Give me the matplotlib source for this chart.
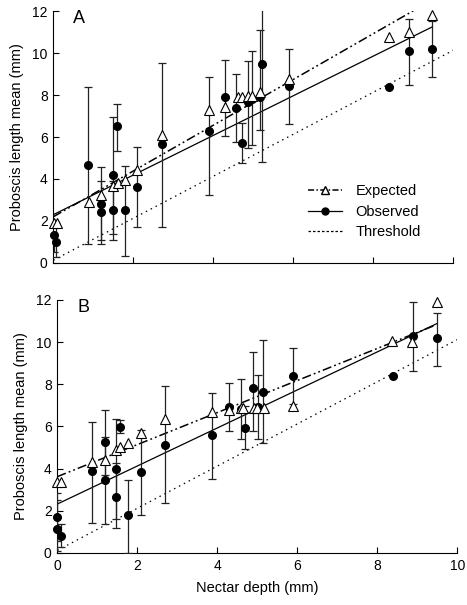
import numpy as np
import matplotlib
matplotlib.use('Agg')
import matplotlib.pyplot as plt
from matplotlib.lines import Line2D

plt.rcParams['font.family'] = ['Liberation Sans', 'DejaVu Sans']

nan = np.nan

# panel A
a_exp_x = [0.02, 0.10, 0.89, 1.20, 1.50, 1.63, 1.79, 2.10, 2.71, 3.89, 4.29, 4.63, 4.73,
           4.88, 4.96, 5.17, 5.89, 8.39, 8.89, 9.48]
a_exp_y = [1.9, 1.9, 2.9, 3.24, 3.65, 3.8, 3.95, 4.42, 6.1, 7.29, 7.44, 7.89, 7.89,
           7.97, 7.97, 8.14, 8.76, 10.75, 10.98, 11.8]
a_obs_x = [0.02, 0.08, 0.88, 1.20, 1.20, 1.50, 1.50, 1.60, 1.79, 2.10, 2.71, 3.89, 4.29,
           4.58, 4.71, 4.86, 4.98, 5.17, 5.21, 5.89, 8.39, 8.89, 9.48]
a_obs_y = [1.33, 1.01, 4.65, 2.8, 2.44, 4.19, 2.52, 6.54, 2.52, 3.63, 5.65, 6.3, 7.92,
           7.38, 5.7, 7.65, 7.81, 7.92, 9.46, 8.43, 8.4, 10.1, 10.18]
a_obs_lo = [0.54, 0.27, 0.89, 1.1, 0.9, 1.39, 1.1, 5.35, 0.33, 1.73, 1.7, 3.24, 6.05,
            5.77, 4.75, 5.49, 5.62, 6.33, 4.79, 6.6, nan, 8.5, 8.87]
a_obs_hi = [1.33, 1.89, 8.37, 4.56, 3.92, 6.97, 3.92, 7.57, 4.63, 5.54, 9.54, 8.84, 9.67,
            9.0, 6.67, 9.6, 10.11, 11.1, 14.1, 10.17, nan, 11.62, 11.54]

# panel B
b_exp_x = [0.0, 0.09, 0.88, 1.19, 1.47, 1.58, 1.78, 2.09, 2.69, 3.88, 4.29, 4.59, 4.65,
           4.92, 5.0, 5.18, 5.9, 8.38, 8.88, 9.5]
b_exp_y = [3.38, 3.38, 4.3, 4.41, 4.9, 5.02, 5.22, 5.67, 6.34, 6.7, 6.76, 6.86, 6.86,
           6.86, 6.86, 6.86, 6.98, 10.05, 10.0, 11.91]
b_obs_x = [0.0, 0.0, 0.08, 0.88, 1.20, 1.20, 1.48, 1.48, 1.57, 1.78, 2.10, 2.69, 3.88,
           4.29, 4.59, 4.69, 4.90, 5.03, 5.15, 5.90, 8.40, 8.90, 9.50]
b_obs_y = [1.72, 1.14, 0.82, 3.87, 5.24, 3.46, 3.97, 2.67, 5.99, 1.8, 3.85, 5.12, 5.59,
           6.93, 6.82, 5.94, 7.84, 6.9, 7.65, 8.39, 8.39, 10.3, 10.18]
b_obs_lo = [0.58, 0.1, 0.27, 1.44, 3.7, 1.37, 1.6, 1.17, 5.67, 0.0, 1.8, 2.39, 3.5,
            5.8, 5.39, 4.91, 5.78, 5.39, 5.2, 7.06, nan, 8.64, 8.86]
b_obs_hi = [2.86, 2.51, 1.37, 6.22, 6.78, 5.51, 6.34, 4.25, 6.33, 3.46, 5.83, 7.91, 7.6,
            8.04, 8.25, 6.97, 9.51, 8.44, 10.1, 9.7, nan, 11.88, 11.4]

# fitted lines: (intercept, slope, x end)
a_expected_fit = (2.2, 1.09, 9.0)
a_observed_fit = (2.3, 0.944, 9.48)
a_threshold_fit = (0.13, 1.0, 10.0)
b_expected_fit = (3.62, 0.76, 9.47)
b_observed_fit = (2.32, 0.902, 9.5)
b_threshold_fit = (0.12, 1.0, 10.0)

fig = plt.figure(figsize=(4.67, 6.05), dpi=100)
ax_a = fig.add_axes([0.1141, 0.5653, 0.8565, 0.4165])
ax_b = fig.add_axes([0.1227, 0.0860, 0.8565, 0.4182])

thr_style = (0, (1.2, 3.2))
dash_style = (0, (6, 2, 1.2, 2, 1.2, 2))


def draw_panel(ax, ex, ey, ox, oy, lo, hi, fits, letter):
    ox = np.array(ox)
    oy = np.array(oy)
    lo = np.array(lo)
    hi = np.array(hi)
    for (b0, b1, xe), ls, lw in zip(fits, [dash_style, '-', thr_style], [1.1, 0.9, 0.9]):
        xs = np.array([0, xe])
        ax.plot(xs, b0 + b1 * xs, color='black', linestyle=ls, lw=lw, zorder=2)
    m = ~np.isnan(lo)
    ax.errorbar(ox[m], oy[m], yerr=[oy[m] - lo[m], hi[m] - oy[m]], fmt='none',
                ecolor='#222222', elinewidth=0.9, capsize=3, capthick=0.9, zorder=3)
    ax.plot(ox, oy, 'o', color='black', markersize=5.5, zorder=4, clip_on=False)
    ax.plot(ex, ey, '^', mfc='white', mec='black', mew=0.8, markersize=6.5, zorder=5,
            clip_on=False)
    ax.set_xlim(0, 10)
    ax.set_ylim(0, 12)
    ax.set_xticks(range(0, 11, 2))
    ax.set_yticks(range(0, 13, 2))
    ax.spines['top'].set_visible(False)
    ax.spines['right'].set_visible(False)
    ax.tick_params(direction='in', length=4, width=0.8, labelsize=10, pad=4)
    ax.set_ylabel('Proboscis length mean (mm)', fontsize=10.5, labelpad=6)
    ax.text(0.05, 0.972, letter, transform=ax.transAxes, fontsize=13, va='center')


draw_panel(ax_a, a_exp_x, a_exp_y, a_obs_x, a_obs_y, a_obs_lo, a_obs_hi,
           [a_expected_fit, a_observed_fit, a_threshold_fit], 'A')
draw_panel(ax_b, b_exp_x, b_exp_y, b_obs_x, b_obs_y, b_obs_lo, b_obs_hi,
           [b_expected_fit, b_observed_fit, b_threshold_fit], 'B')

ax_a.tick_params(labelbottom=False)
ax_b.set_xlabel('Nectar depth (mm)', fontsize=10.5, labelpad=6)

handles = [
    Line2D([], [], color='black', linestyle=(0, (4, 1.5, 1, 1.5)), lw=1.1, marker='^',
           mfc='white', mec='black', markersize=5.5),
    Line2D([], [], color='black', linestyle='-', lw=0.9, marker='o', markersize=5),
    Line2D([], [], color='black', linestyle=(0, (2, 1.6)), lw=0.9),
]
ax_a.legend(handles, ['Expected', 'Observed', 'Threshold'], loc='upper left',
            bbox_to_anchor=(0.637, 0.313), frameon=False, fontsize=10.5,
            borderpad=0, borderaxespad=0,
            handlelength=2.3, handletextpad=0.95, labelspacing=0.45)

fig.savefig('out.png', dpi=100)
